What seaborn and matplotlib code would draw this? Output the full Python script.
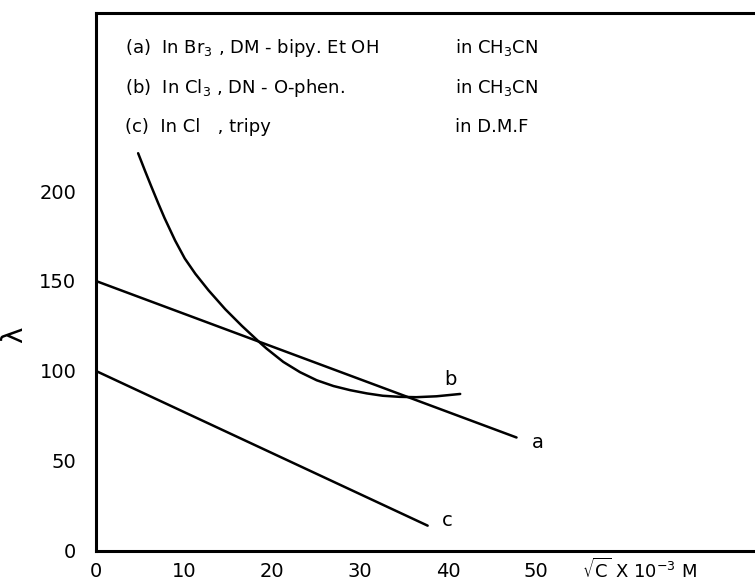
import matplotlib
matplotlib.use("Agg")
import matplotlib.pyplot as plt
import seaborn as sns
import pandas as pd

# --- data ---
a_x = [0, 47.8]
a_y = [150, 63]
b_x = [4.8, 5.6, 6.3, 7.1, 7.8, 9.0, 10.1, 11.3, 12.8, 14.7, 16.6, 18.8,
       19.4, 21.3, 23.2, 25.1, 27.0, 28.9, 30.8, 32.6, 34.5, 36.4, 38.7, 41.4]
b_y = [221, 211, 202.5, 193, 185, 172.5, 162.5, 154, 144.8, 134.3, 125, 115,
       112.4, 105, 99.3, 94.8, 91.6, 89.3, 87.5, 86.2, 85.6, 85.4, 85.9, 87.2]
c_x = [0, 37.7]
c_y = [100, 14]

x_ticks = [0, 10, 20, 30, 40, 50]
y_ticks = [0, 50, 100, 150, 200]
curve_labels = ["a", "b", "c"]
label_x = [49.6, 39.6, 39.3]
label_y = [60, 95, 17]

legend_rows = [
    (r"(a)  In Br$_3$ , DM - bipy. Et OH", r"in CH$_3$CN"),
    (r"(b)  In Cl$_3$ , DN - O-phen.", r"in CH$_3$CN"),
    (r"(c)  In Cl   , tripy", r"in D.M.F"),
]

sns.set_style("white")
plt.rcParams["font.family"] = ["DejaVu Sans"]
plt.rcParams["mathtext.fontset"] = "dejavusans"
plt.rcParams["text.color"] = "black"
plt.rcParams["xtick.color"] = "black"
plt.rcParams["ytick.color"] = "black"
plt.rcParams["axes.labelcolor"] = "black"

fig = plt.figure(figsize=(7.55, 5.86), dpi=100)
ax = fig.add_axes([0.127, 0.06, 0.873, 0.918])

df = pd.concat([
    pd.DataFrame({"x": a_x, "y": a_y, "s": "a"}),
    pd.DataFrame({"x": b_x, "y": b_y, "s": "b"}),
    pd.DataFrame({"x": c_x, "y": c_y, "s": "c"}),
])
for s in ["a", "b", "c"]:
    sns.lineplot(data=df[df.s == s], x="x", y="y", ax=ax, color="black",
                 linewidth=1.8, sort=False, estimator=None)

for lab, lx, ly in zip(curve_labels, label_x, label_y):
    ax.text(lx, ly, lab, fontsize=14, ha="left", va="center")

ax.set_xlim(0, 74.9)
ax.set_ylim(0, 299)
ax.set_xticks(x_ticks)
ax.set_yticks(y_ticks)
ax.set_xticklabels([str(t) for t in x_ticks], fontsize=14)
ax.set_yticklabels([str(t) for t in y_ticks], fontsize=14)
ax.tick_params(axis="x", direction="in", length=10, width=1.5, pad=8)
ax.tick_params(axis="y", direction="in", length=15, width=1.5, pad=14)
ax.set_xlabel("")
ax.set_ylabel("")
fig.text(14 / 755, 1 - 335 / 586, "λ", rotation=90, fontsize=20,
         ha="center", va="center")

for side in ["left", "bottom", "top"]:
    ax.spines[side].set_visible(True)
    ax.spines[side].set_color("black")
    ax.spines[side].set_linewidth(2.2)
ax.spines["right"].set_visible(False)

ax.text(0.737, -0.036, r"$\sqrt{\mathrm{C}}$ X 10$^{-3}$ M", transform=ax.transAxes,
        fontsize=13, ha="left", va="center")

row_y = [0.935, 0.861, 0.788]
for (left, right), ry in zip(legend_rows, row_y):
    ax.text(0.044, ry, left, transform=ax.transAxes, fontsize=13, ha="left", va="center")
    ax.text(0.545, ry, right, transform=ax.transAxes, fontsize=13, ha="left", va="center")

fig.savefig("out.png", dpi=100)
